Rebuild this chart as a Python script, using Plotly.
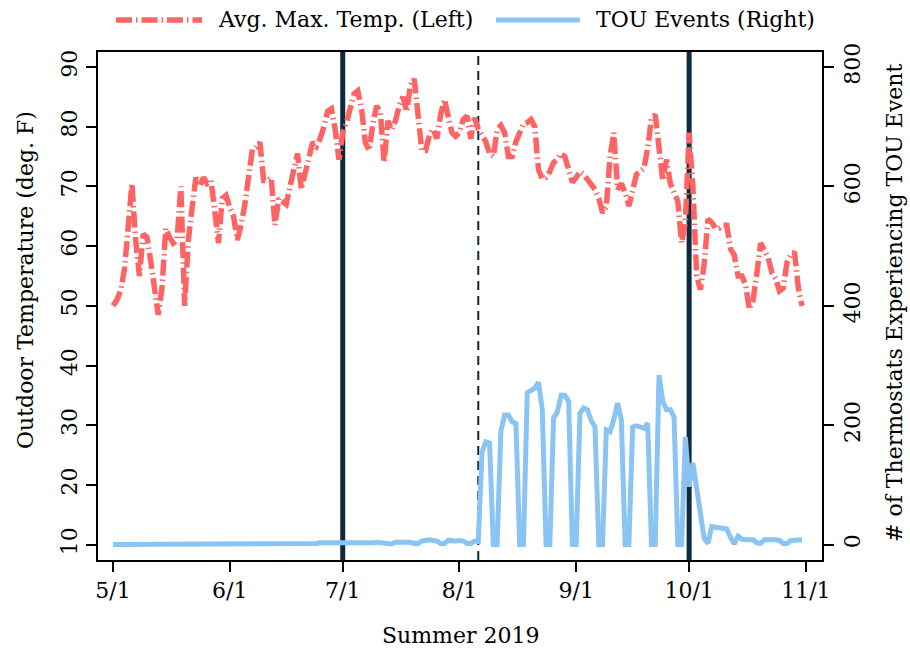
import pandas as pd
import plotly.graph_objects as go

# ---------------- data ----------------
start_date = "2019-05-01"
avg_max_temp = [
    50, 51, 52.5, 56, 63, 70.5, 61, 55, 62, 61.5,
    57.5, 53, 48.5, 53, 63, 61.5, 60.5, 61, 70, 50,
    61, 66.5, 71.5, 70, 71.5, 70.5, 71, 66, 60.5, 68,
    68.5, 66.5, 65, 61, 63.5, 67, 72, 76.2, 76.5, 77.4,
    71, 71, 71.5, 63.5, 68, 67.5, 67, 70, 73, 75.5,
    69.5, 72.5, 75, 77.4, 76.7, 78, 80, 82.6, 83, 79.5,
    74.5, 79, 80.7, 83, 85.5, 86, 83, 77.4, 76, 80.5,
    83.5, 82.4, 74, 81, 79.5, 81, 83.5, 85, 82.5, 87,
    88, 82, 76, 76, 78.5, 79.6, 78, 82, 84.6, 81.8,
    79, 78.4, 79, 81.2, 81.8, 78, 81.5, 79.6, 78.5, 77.5,
    75.5, 75, 79.5, 80.2, 79, 75, 75, 77.5, 79, 80.5,
    80.7, 81.2, 80, 72.8, 71.2, 71.5, 72.5, 74, 74.5, 75.5,
    75, 73, 70.7, 71.5, 72.5, 72, 71.2, 70.5, 69.5, 68,
    65.6, 66.5, 75, 79, 69.5, 70.5, 69, 66.7, 69, 72,
    72.5, 73, 76.5, 81.5, 82, 75.5, 71, 74.5, 70.5, 69,
    67.5, 60.5, 64, 79, 70, 55, 52.7, 57, 64.5, 64,
    63, 63, 63.5, 63.5, 59.5, 58.5, 55, 55, 53.5, 49.4,
    51, 55.5, 60.5, 59.3, 58, 55.5, 54.5, 52.5, 53, 57.3,
    58.5, 59, 53, 50,
]
tou_events = (
    [0] * 47
    + [1, 2, 2, 2, 2, 1, 1, 2, 3, 3, 3, 3, 1, 1,
       3, 3, 3, 2, 3, 1, 1, 3, 3, 4, 3, 3, 1, 1, 4, 4, 5, 5, 4, 2, 2,
       6, 8, 8, 7, 6, 2, 2, 7, 6, 6, 7, 6, 2, 2, 6, 5]
    + [155, 172, 170, 0, 0,
       190, 217, 217, 206, 203, 0, 0,
       254, 257, 262, 272, 226, 0, 0,
       212, 222, 250, 250, 240, 0, 0,
       220, 229, 226, 208, 197, 0, 0,
       192, 189, 210, 237, 209, 0, 0,
       197, 199, 197, 195, 203, 0, 0,
       284, 240, 226, 226, 214, 0, 0,
       180, 97, 137, 97, 55, 10, 2,
       30, 29, 28, 27, 26, 12, 1,
       14, 9, 8, 9, 8, 3, 2,
       8, 7, 8, 8, 7, 2, 2,
       7, 8, 7, 8]
)
dates = pd.date_range(start_date, periods=len(avg_max_temp), freq="D")

tick_dates = ["2019-05-01", "2019-06-01", "2019-07-01", "2019-08-01",
              "2019-09-01", "2019-10-01", "2019-11-01"]
tick_labels = ["5/1", "6/1", "7/1", "8/1", "9/1", "10/1", "11/1"]
left_ticks = [10, 20, 30, 40, 50, 60, 70, 80, 90]
right_ticks = [0, 200, 400, 600, 800]
policy_dates = ["2019-07-01", "2019-10-01"]
announce_date = "2019-08-06"

temp_name = "Avg. Max. Temp. (Left)"
tou_name = "TOU Events (Right)"

# ---------------- style ----------------
RED = "#FF6464"
BLUE = "#8AC4F3"
NAVY = "#0D2A3E"
FONT = "DejaVu Serif"
FS = 22
RED_DASH = "16px,4px,1.5px,4px"

W, H = 910, 652
L, R, T, B = 98, 88, 52, 92
pw, ph = W - L - R, H - T - B

def px_x(x):
    return (x - L) / pw

def px_y(y):
    return (H - B - y) / ph

fig = go.Figure()
fig.add_trace(go.Scatter(x=dates, y=avg_max_temp, name=temp_name, mode="lines",
                         line=dict(color=RED, width=5.5, dash=RED_DASH),
                         yaxis="y", showlegend=False))
fig.add_trace(go.Scatter(x=dates, y=tou_events, name=tou_name, mode="lines",
                         line=dict(color=BLUE, width=5),
                         yaxis="y2", showlegend=False))

for d in policy_dates:
    fig.add_shape(type="line", xref="x", yref="paper", x0=d, x1=d, y0=0, y1=1,
                  line=dict(color=NAVY, width=5), layer="below")
fig.add_shape(type="line", xref="x", yref="paper", x0=announce_date, x1=announce_date,
              y0=0, y1=1, line=dict(color=NAVY, width=2, dash="9px,6px"), layer="below")

# legend (manual)
ly = px_y(20)
fig.add_shape(type="line", xref="paper", yref="paper", x0=px_x(116), x1=px_x(202),
              y0=ly, y1=ly, line=dict(color=RED, width=5.5, dash=RED_DASH))
fig.add_shape(type="line", xref="paper", yref="paper", x0=px_x(496), x1=px_x(580),
              y0=ly, y1=ly, line=dict(color=BLUE, width=5))
fig.add_annotation(text=temp_name, xref="paper", yref="paper", x=px_x(216), y=ly,
                   xanchor="left", yanchor="middle", showarrow=False,
                   font=dict(family=FONT, size=FS, color="black"))
fig.add_annotation(text=tou_name, xref="paper", yref="paper", x=px_x(594), y=ly,
                   xanchor="left", yanchor="middle", showarrow=False,
                   font=dict(family=FONT, size=FS, color="black"))

# axis titles
fig.add_annotation(text="Outdoor Temperature (deg. F)", xref="paper", yref="paper",
                   x=px_x(25), y=px_y(280), textangle=-90, showarrow=False,
                   xanchor="center", yanchor="middle",
                   font=dict(family=FONT, size=FS, color="black"))
fig.add_annotation(text="# of Thermostats Experiencing TOU Event", xref="paper", yref="paper",
                   x=px_x(894), y=px_y(303), textangle=-90, showarrow=False,
                   xanchor="center", yanchor="middle",
                   font=dict(family=FONT, size=FS, color="black"))
fig.add_annotation(text="Summer 2019", xref="paper", yref="paper",
                   x=0.5, y=px_y(635), showarrow=False,
                   xanchor="center", yanchor="middle",
                   font=dict(family=FONT, size=FS, color="black"))

axis_common = dict(showgrid=False, zeroline=False, showline=True, linecolor="black",
                   linewidth=1.5, ticks="outside", ticklen=10, tickwidth=1.5,
                   tickcolor="black", tickfont=dict(family=FONT, size=FS, color="black"))

fig.update_layout(
    width=W, height=H,
    margin=dict(l=L, r=R, t=T, b=B),
    paper_bgcolor="white", plot_bgcolor="white",
    font=dict(family=FONT, size=FS, color="black"),
    xaxis=dict(type="date", range=["2019-04-27", "2019-11-05 07:00"],
               tickvals=tick_dates, ticktext=tick_labels, mirror=True,
               **axis_common),
    yaxis=dict(range=[7.42, 92.52], tickvals=left_ticks, tickangle=-90,
               **axis_common),
    yaxis2=dict(range=[-25.8, 825.2], tickvals=right_ticks, tickangle=-90,
                overlaying="y", side="right", **axis_common),
)

fig.write_html("out.html")
